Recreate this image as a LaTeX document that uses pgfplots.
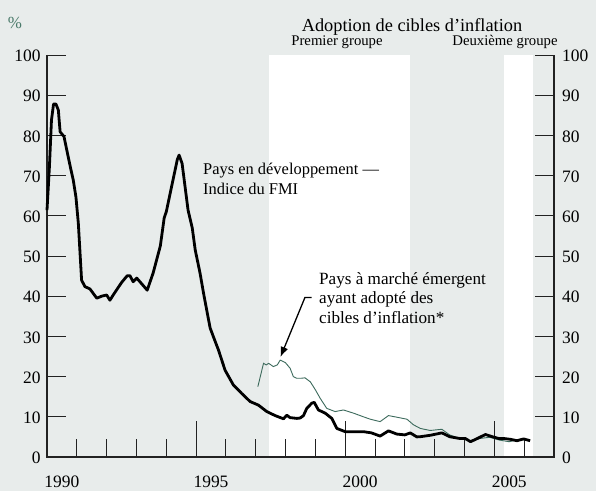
\documentclass[border=0pt]{standalone}
\usepackage{fontspec}
\setmainfont{Liberation Serif}
\usepackage{pgfplots}
\pgfplotsset{compat=1.18}
\usetikzlibrary{arrows.meta}
\definecolor{bg}{HTML}{E8ECEB}
\definecolor{gline}{HTML}{3C6A5C}
\definecolor{pct}{HTML}{4A7A6A}
\definecolor{axc}{HTML}{222222}
\begin{document}
\begin{tikzpicture}
\fill[bg] (0bp,0bp) rectangle (596bp,491bp);
\begin{axis}[at={(47bp,34bp)}, anchor=south west, scale only axis,
  width=507bp, height=402bp, xmin=1990, xmax=2007, ymin=0, ymax=100,
  axis line style={draw=none}, clip=false,
  xtick={1990.5,1995.5,2000.5,2005.5}, xticklabels={1990,1995,2000,2005},
  ytick={0,10,...,100},
  tick style={draw=none},
  ticklabel style={font=\fontsize{17.5}{18}\selectfont},
  /pgf/number format/assume math mode=true,
  xticklabel style={yshift=-15bp},
  yticklabel style={xshift=-3bp, yshift=-1bp},
]
% white bands
\addplot[fill=white, draw=none] coordinates {(1997.45,100) (2002.18,100)} \closedcycle;
\addplot[fill=white, draw=none] coordinates {(2005.33,100) (2006.28,100)} \closedcycle;
% axis lines and ticks
\draw[axc, line width=1.1bp] (axis cs:1990,100) -- (axis cs:1990,0) -- (axis cs:2007,0) -- (axis cs:2007,100);
\pgfplotsinvokeforeach{0,10,20,30,40,50,60,70,80,90,100}{
  \draw[axc, line width=0.9bp] (axis cs:1990,#1) -- ++(19bp,0bp);
  \draw[axc, line width=0.9bp] (axis cs:2007,#1) -- ++(-19bp,0bp);
  \node[anchor=west, font=\fontsize{17.5}{18}\selectfont, inner sep=0pt, xshift=8bp, yshift=-1bp] at (axis cs:2007,#1) {#1};
}
\pgfplotsinvokeforeach{1991,1992,1993,1994,1996,1997,1998,1999,2001,2002,2003,2004,2006}{
  \draw[axc, line width=0.9bp] (axis cs:#1,0) -- ++(0bp,18bp);
}
\pgfplotsinvokeforeach{1995,2000,2005}{
  \draw[axc, line width=0.9bp] (axis cs:#1,0) -- ++(0bp,36bp);
}
% green series
\addplot[gline, line width=0.9bp] coordinates {
(1997.07,17.5) (1997.26,23.3) (1997.35,22.9) (1997.43,23.3) (1997.59,22.5) (1997.72,22.9)
(1997.82,24.1) (1997.99,23.5) (1998.15,22.1) (1998.26,20.0) (1998.37,19.6) (1998.54,19.6)
(1998.65,19.7) (1998.83,18.7) (1999.00,16.7) (1999.16,14.6) (1999.38,12.1) (1999.66,11.3)
(1999.94,11.7) (2000.28,10.9) (2000.61,10.0) (2000.84,9.4) (2001.17,8.8) (2001.45,10.3)
(2001.73,9.9) (2002.07,9.4) (2002.29,8.0) (2002.52,7.1) (2002.85,6.6) (2003.24,6.9)
(2003.50,5.5) (2003.84,4.6) (2004.17,4.05) (2004.50,4.6) (2004.84,4.9) (2005.17,4.2)
(2005.50,3.8) (2005.84,4.4) (2006.17,4.05)
};
% black series
\addplot[black, line width=2.8bp, line join=round] coordinates {
(1990.00,61.4) (1990.08,72) (1990.15,83.8) (1990.22,87.8) (1990.30,87.8) (1990.38,86.3)
(1990.44,80.9) (1990.57,79.7) (1990.71,74.7) (1990.79,71.9) (1990.88,68.9) (1990.97,64.7)
(1991.05,58.2) (1991.16,44.0) (1991.27,42.4) (1991.44,41.8) (1991.67,39.5) (1991.83,40.0)
(1992.00,40.3) (1992.11,39.0) (1992.22,40.3) (1992.50,43.4) (1992.69,45.1) (1992.78,45.1)
(1992.89,43.6) (1993.01,44.5) (1993.36,41.5) (1993.56,45.8) (1993.80,52.5) (1993.93,59.5)
(1994.00,61) (1994.17,67) (1994.37,74) (1994.43,75.1) (1994.53,73) (1994.73,61.4)
(1994.87,57) (1994.97,51.5) (1995.13,45.8) (1995.25,40.7) (1995.40,34.8) (1995.47,32.1)
(1995.58,29.9) (1995.75,26.6) (1995.97,21.6) (1996.25,17.9) (1996.53,15.8) (1996.81,13.8)
(1997.09,12.9) (1997.37,11.3) (1997.65,10.3) (1997.93,9.5) (1998.04,10.4) (1998.15,9.8)
(1998.38,9.6) (1998.49,9.7) (1998.60,10.3) (1998.71,12.1) (1998.88,13.4) (1998.96,13.6)
(1999.10,11.7) (1999.33,10.9) (1999.55,9.6) (1999.72,7.1) (2000.00,6.3) (2000.28,6.3)
(2000.61,6.3) (2000.88,6.0) (2001.17,5.2) (2001.45,6.5) (2001.73,5.7) (2002.00,5.5)
(2002.18,6.0) (2002.40,5.0) (2002.52,5.05) (2002.85,5.4) (2003.24,6.0) (2003.50,5.05)
(2003.84,4.6) (2004.03,4.6) (2004.20,3.8) (2004.43,4.6) (2004.70,5.6) (2004.93,5.05)
(2005.15,4.6) (2005.32,4.6) (2005.54,4.4) (2005.76,4.05) (2005.98,4.5) (2006.20,4.05)
};
% annotations
\node[anchor=west, align=left, font=\fontsize{16.5}{20}\selectfont, inner sep=0pt] at (axis cs:1995.23,69.2) {Pays en développement —\\Indice du FMI};
\node[anchor=west, align=left, font=\fontsize{17.2}{19.5}\selectfont, inner sep=0pt] at (axis cs:1999.12,39.6) {Pays à marché émergent\\ayant adopté des\\cibles d’inflation*};
\draw[black, line width=1.3bp, -{Latex[length=10bp,width=8bp]}] (axis cs:1998.87,39.7) -- (axis cs:1998.65,39.7) -- (axis cs:1997.83,24.9);
\end{axis}
\node[pct, font=\fontsize{17}{18}\selectfont] at (15bp,468bp) {\%};
\node[anchor=base, font=\fontsize{18.4}{19}\selectfont] at (412bp,459.5bp) {Adoption de cibles d’inflation};
\node[anchor=base, font=\fontsize{14.8}{15}\selectfont] at (337bp,445bp) {Premier groupe};
\node[anchor=base, font=\fontsize{14.8}{15}\selectfont] at (505bp,445bp) {Deuxième groupe};
\end{tikzpicture}
\end{document}
